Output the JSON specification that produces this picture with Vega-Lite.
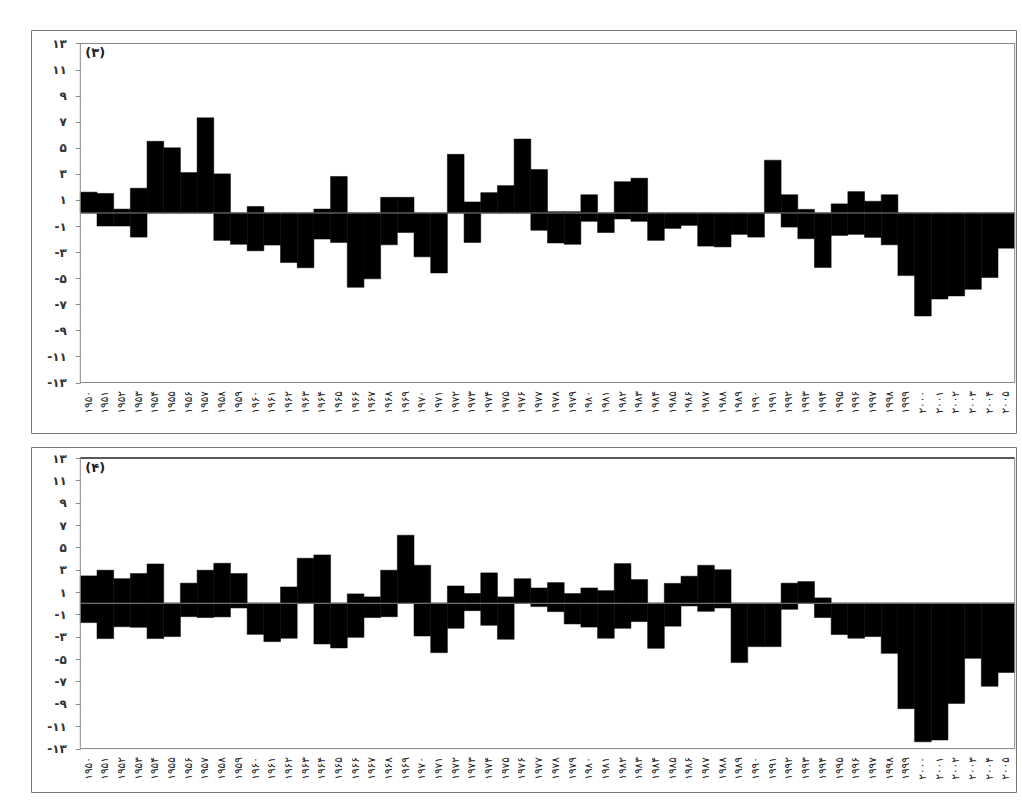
{
  "$schema": "https://vega.github.io/schema/vega-lite/v6.json",
  "padding": {"left": 30, "top": 29, "right": 0, "bottom": 0},
  "spacing": 12,
  "background": "white",
  "config": {
    "view": {"stroke": "#777", "strokeWidth": 1},
    "font": "DejaVu Sans",
    "axis": {"labelOverlap": false, "grid": false},
    "axisY": {"labelOverlap": false, "labelFontSize": 12, "labelFontWeight": "bold", "labelColor": "#333", "tickColor": "#888", "tickSize": 5, "labelPadding": 9, "domain": false, "title": null}
  },
  "data": {
    "values": [
      {"year": "۱۹۵۰", "a_pos": 1.6, "a_neg": 0, "b_pos": 2.45, "b_neg": -1.73},
      {"year": "۱۹۵۱", "a_pos": 1.5, "a_neg": -1.0, "b_pos": 2.96, "b_neg": -3.16},
      {"year": "۱۹۵۲", "a_pos": 0.3, "a_neg": -1.0, "b_pos": 2.2, "b_neg": -2.1},
      {"year": "۱۹۵۳", "a_pos": 1.9, "a_neg": -1.85, "b_pos": 2.66, "b_neg": -2.15},
      {"year": "۱۹۵۴", "a_pos": 5.5, "a_neg": 0, "b_pos": 3.52, "b_neg": -3.16},
      {"year": "۱۹۵۵", "a_pos": 5.0, "a_neg": 0, "b_pos": 0, "b_neg": -2.98},
      {"year": "۱۹۵۶", "a_pos": 3.1, "a_neg": 0, "b_pos": 1.8, "b_neg": -1.2},
      {"year": "۱۹۵۷", "a_pos": 7.3, "a_neg": 0, "b_pos": 2.96, "b_neg": -1.28},
      {"year": "۱۹۵۸", "a_pos": 3.0, "a_neg": -2.1, "b_pos": 3.58, "b_neg": -1.22},
      {"year": "۱۹۵۹", "a_pos": 0, "a_neg": -2.4, "b_pos": 2.66, "b_neg": -0.42},
      {"year": "۱۹۶۰", "a_pos": 0.5, "a_neg": -2.9, "b_pos": 0, "b_neg": -2.78},
      {"year": "۱۹۶۱", "a_pos": 0, "a_neg": -2.46, "b_pos": 0, "b_neg": -3.43},
      {"year": "۱۹۶۲", "a_pos": 0, "a_neg": -3.8, "b_pos": 1.46, "b_neg": -3.13},
      {"year": "۱۹۶۳", "a_pos": 0, "a_neg": -4.2, "b_pos": 4.03, "b_neg": 0},
      {"year": "۱۹۶۴", "a_pos": 0.3, "a_neg": -2.0, "b_pos": 4.33, "b_neg": -3.64},
      {"year": "۱۹۶۵", "a_pos": 2.8, "a_neg": -2.26, "b_pos": 0, "b_neg": -4.0},
      {"year": "۱۹۶۶", "a_pos": 0, "a_neg": -5.7, "b_pos": 0.84, "b_neg": -3.05},
      {"year": "۱۹۶۷", "a_pos": 0, "a_neg": -5.05, "b_pos": 0.57, "b_neg": -1.28},
      {"year": "۱۹۶۸", "a_pos": 1.2, "a_neg": -2.44, "b_pos": 2.96, "b_neg": -1.2},
      {"year": "۱۹۶۹", "a_pos": 1.2, "a_neg": -1.5, "b_pos": 6.09, "b_neg": 0},
      {"year": "۱۹۷۰", "a_pos": 0, "a_neg": -3.36, "b_pos": 3.4, "b_neg": -2.93},
      {"year": "۱۹۷۱", "a_pos": 0, "a_neg": -4.6, "b_pos": 0, "b_neg": -4.42},
      {"year": "۱۹۷۲", "a_pos": 4.5, "a_neg": 0, "b_pos": 1.55, "b_neg": -2.24},
      {"year": "۱۹۷۳", "a_pos": 0.85, "a_neg": -2.26, "b_pos": 0.87, "b_neg": -0.66},
      {"year": "۱۹۷۴", "a_pos": 1.56, "a_neg": 0, "b_pos": 2.72, "b_neg": -1.97},
      {"year": "۱۹۷۵", "a_pos": 2.1, "a_neg": 0, "b_pos": 0.57, "b_neg": -3.22},
      {"year": "۱۹۷۶", "a_pos": 5.67, "a_neg": 0, "b_pos": 2.2, "b_neg": 0},
      {"year": "۱۹۷۷", "a_pos": 3.33, "a_neg": -1.33, "b_pos": 1.37, "b_neg": -0.3},
      {"year": "۱۹۷۸", "a_pos": 0.1, "a_neg": -2.3, "b_pos": 1.85, "b_neg": -0.75},
      {"year": "۱۹۷۹", "a_pos": 0.1, "a_neg": -2.4, "b_pos": 0.87, "b_neg": -1.85},
      {"year": "۱۹۸۰", "a_pos": 1.4, "a_neg": -0.64, "b_pos": 1.37, "b_neg": -2.13},
      {"year": "۱۹۸۱", "a_pos": 0, "a_neg": -1.5, "b_pos": 1.13, "b_neg": -3.13},
      {"year": "۱۹۸۲", "a_pos": 2.4, "a_neg": -0.46, "b_pos": 3.55, "b_neg": -2.24},
      {"year": "۱۹۸۳", "a_pos": 2.67, "a_neg": -0.64, "b_pos": 2.12, "b_neg": -1.64},
      {"year": "۱۹۸۴", "a_pos": 0, "a_neg": -2.1, "b_pos": 0, "b_neg": -4.03},
      {"year": "۱۹۸۵", "a_pos": 0, "a_neg": -1.18, "b_pos": 1.78, "b_neg": -2.05},
      {"year": "۱۹۸۶", "a_pos": 0, "a_neg": -0.95, "b_pos": 2.42, "b_neg": -0.24},
      {"year": "۱۹۸۷", "a_pos": 0, "a_neg": -2.54, "b_pos": 3.4, "b_neg": -0.72},
      {"year": "۱۹۸۸", "a_pos": 0, "a_neg": -2.6, "b_pos": 3.0, "b_neg": -0.42},
      {"year": "۱۹۸۹", "a_pos": 0, "a_neg": -1.64, "b_pos": 0, "b_neg": -5.31},
      {"year": "۱۹۹۰", "a_pos": 0, "a_neg": -1.85, "b_pos": 0, "b_neg": -3.88},
      {"year": "۱۹۹۱", "a_pos": 4.05, "a_neg": 0, "b_pos": 0, "b_neg": -3.88},
      {"year": "۱۹۹۲", "a_pos": 1.4, "a_neg": -1.08, "b_pos": 1.8, "b_neg": -0.54},
      {"year": "۱۹۹۳", "a_pos": 0.28, "a_neg": -1.97, "b_pos": 1.94, "b_neg": 0},
      {"year": "۱۹۹۴", "a_pos": 0, "a_neg": -4.18, "b_pos": 0.48, "b_neg": -1.28},
      {"year": "۱۹۹۵", "a_pos": 0.7, "a_neg": -1.72, "b_pos": 0, "b_neg": -2.8},
      {"year": "۱۹۹۶", "a_pos": 1.64, "a_neg": -1.64, "b_pos": 0, "b_neg": -3.13},
      {"year": "۱۹۹۷", "a_pos": 0.9, "a_neg": -1.87, "b_pos": 0, "b_neg": -2.98},
      {"year": "۱۹۹۸", "a_pos": 1.4, "a_neg": -2.44, "b_pos": 0, "b_neg": -4.48},
      {"year": "۱۹۹۹", "a_pos": 0, "a_neg": -4.8, "b_pos": 0, "b_neg": -9.43},
      {"year": "۲۰۰۰", "a_pos": 0, "a_neg": -7.9, "b_pos": 0, "b_neg": -12.4},
      {"year": "۲۰۰۱", "a_pos": 0, "a_neg": -6.6, "b_pos": 0, "b_neg": -12.24},
      {"year": "۲۰۰۲", "a_pos": 0, "a_neg": -6.36, "b_pos": 0, "b_neg": -8.96},
      {"year": "۲۰۰۳", "a_pos": 0, "a_neg": -5.85, "b_pos": 0, "b_neg": -4.93},
      {"year": "۲۰۰۴", "a_pos": 0, "a_neg": -4.95, "b_pos": 0, "b_neg": -7.43},
      {"year": "۲۰۰۵", "a_pos": 0, "a_neg": -2.7, "b_pos": 0, "b_neg": -6.2}
    ]
  },
  "vconcat": [
    {
      "width": 985,
      "height": 403,
      "encoding": {
        "x": {
          "field": "year", "type": "ordinal", "sort": null,
          "scale": {"paddingInner": 0, "paddingOuter": 0, "range": [49.3, 983.7]},
          "axis": {"orient": "bottom", "offset": -50.5, "title": null, "labelAngle": -90, "domain": false, "ticks": false, "labelPadding": 8, "labelFontSize": 10.5, "labelColor": "#222", "labelOverlap": false, "grid": false}
        },
        "y": {
          "type": "quantitative",
          "scale": {"domain": [-16.873, 14.035], "nice": false, "zero": false},
          "axis": {"title": null, "offset": -49.3, "values": [-13, -11, -9, -7, -5, -3, -1, 1, 3, 5, 7, 9, 11, 13], "labelOverlap": false,
            "labelExpr": "(datum.value<0?'-':'')+(abs(datum.value)==1?'۱':abs(datum.value)==3?'۳':abs(datum.value)==5?'۵':abs(datum.value)==7?'۷':abs(datum.value)==9?'۹':abs(datum.value)==11?'۱۱':'۱۳')"}
        }
      },
      "layer": [
        {
          "mark": {"type": "bar", "color": "black", "stroke": "black", "strokeWidth": 0.5},
          "encoding": {"y": {"field": "a_pos"}, "y2": {"datum": 0}}
        },
        {
          "mark": {"type": "bar", "color": "black", "stroke": "black", "strokeWidth": 0.5},
          "encoding": {"y": {"field": "a_neg"}, "y2": {"datum": 0}}
        },
        {
          "data": {"values": [{}]},
          "mark": {"type": "rule", "color": "#888", "strokeWidth": 1},
          "encoding": {
            "x": {"datum": "۱۹۵۰", "bandPosition": 0},
            "x2": {"datum": "۲۰۰۵", "bandPosition": 1},
            "y": {"datum": 13}
          }
        },
        {
          "data": {"values": [{}]},
          "mark": {"type": "rule", "color": "#888", "strokeWidth": 1},
          "encoding": {
            "x": {"datum": "۱۹۵۰", "bandPosition": 0},
            "x2": {"datum": "۲۰۰۵", "bandPosition": 1},
            "y": {"datum": -13}
          }
        },
        {
          "data": {"values": [{}]},
          "mark": {"type": "rule", "color": "#888", "strokeWidth": 1},
          "encoding": {
            "x": {"datum": "۱۹۵۰", "bandPosition": 0},
            "x2": {"datum": "۲۰۰۵", "bandPosition": 1},
            "y": {"datum": 0}
          }
        },
        {
          "data": {"values": [{}]},
          "mark": {"type": "rule", "color": "#888", "strokeWidth": 1},
          "encoding": {
            "x": {"datum": "۱۹۵۰", "bandPosition": 0},
            "y": {"datum": 13},
            "y2": {"datum": -13}
          }
        },
        {
          "data": {"values": [{}]},
          "mark": {"type": "rule", "color": "#888", "strokeWidth": 1},
          "encoding": {
            "x": {"datum": "۲۰۰۵", "bandPosition": 1},
            "y": {"datum": 13},
            "y2": {"datum": -13}
          }
        },
        {
          "data": {"values": [{}]},
          "mark": {"type": "text", "align": "left", "baseline": "top", "dx": 5, "dy": 4, "fontSize": 13, "fontWeight": "bold", "color": "#222"},
          "encoding": {
            "x": {"datum": "۱۹۵۰", "bandPosition": 0},
            "y": {"datum": 13},
            "text": {"value": "(۳)"}
          }
        }
      ]
    },
    {
      "width": 985,
      "height": 345,
      "encoding": {
        "x": {
          "field": "year", "type": "ordinal", "sort": null,
          "scale": {"paddingInner": 0, "paddingOuter": 0, "range": [49.3, 983.7]},
          "axis": {"orient": "bottom", "offset": -43.4, "title": null, "labelAngle": -90, "domain": false, "ticks": false, "labelPadding": 8, "labelFontSize": 10.5, "labelColor": "#222", "labelOverlap": false, "grid": false}
        },
        "y": {
          "type": "quantitative",
          "scale": {"domain": [-16.89, 13.985], "nice": false, "zero": false},
          "axis": {"title": null, "offset": -49.3, "values": [-13, -11, -9, -7, -5, -3, -1, 1, 3, 5, 7, 9, 11, 13], "labelOverlap": false,
            "labelExpr": "(datum.value<0?'-':'')+(abs(datum.value)==1?'۱':abs(datum.value)==3?'۳':abs(datum.value)==5?'۵':abs(datum.value)==7?'۷':abs(datum.value)==9?'۹':abs(datum.value)==11?'۱۱':'۱۳')"}
        }
      },
      "layer": [
        {
          "mark": {"type": "bar", "color": "black", "stroke": "black", "strokeWidth": 0.5},
          "encoding": {"y": {"field": "b_pos"}, "y2": {"datum": 0}}
        },
        {
          "mark": {"type": "bar", "color": "black", "stroke": "black", "strokeWidth": 0.5},
          "encoding": {"y": {"field": "b_neg"}, "y2": {"datum": 0}}
        },
        {
          "data": {"values": [{}]},
          "mark": {"type": "rule", "color": "#222", "strokeWidth": 1.5},
          "encoding": {
            "x": {"datum": "۱۹۵۰", "bandPosition": 0},
            "x2": {"datum": "۲۰۰۵", "bandPosition": 1},
            "y": {"datum": 13}
          }
        },
        {
          "data": {"values": [{}]},
          "mark": {"type": "rule", "color": "#888", "strokeWidth": 1},
          "encoding": {
            "x": {"datum": "۱۹۵۰", "bandPosition": 0},
            "x2": {"datum": "۲۰۰۵", "bandPosition": 1},
            "y": {"datum": -13}
          }
        },
        {
          "data": {"values": [{}]},
          "mark": {"type": "rule", "color": "#888", "strokeWidth": 1},
          "encoding": {
            "x": {"datum": "۱۹۵۰", "bandPosition": 0},
            "x2": {"datum": "۲۰۰۵", "bandPosition": 1},
            "y": {"datum": 0}
          }
        },
        {
          "data": {"values": [{}]},
          "mark": {"type": "rule", "color": "#888", "strokeWidth": 1},
          "encoding": {
            "x": {"datum": "۱۹۵۰", "bandPosition": 0},
            "y": {"datum": 13},
            "y2": {"datum": -13}
          }
        },
        {
          "data": {"values": [{}]},
          "mark": {"type": "rule", "color": "#888", "strokeWidth": 1},
          "encoding": {
            "x": {"datum": "۲۰۰۵", "bandPosition": 1},
            "y": {"datum": 13},
            "y2": {"datum": -13}
          }
        },
        {
          "data": {"values": [{}]},
          "mark": {"type": "text", "align": "left", "baseline": "top", "dx": 5, "dy": 4, "fontSize": 13, "fontWeight": "bold", "color": "#222"},
          "encoding": {
            "x": {"datum": "۱۹۵۰", "bandPosition": 0},
            "y": {"datum": 13},
            "text": {"value": "(۴)"}
          }
        }
      ]
    }
  ]
}
